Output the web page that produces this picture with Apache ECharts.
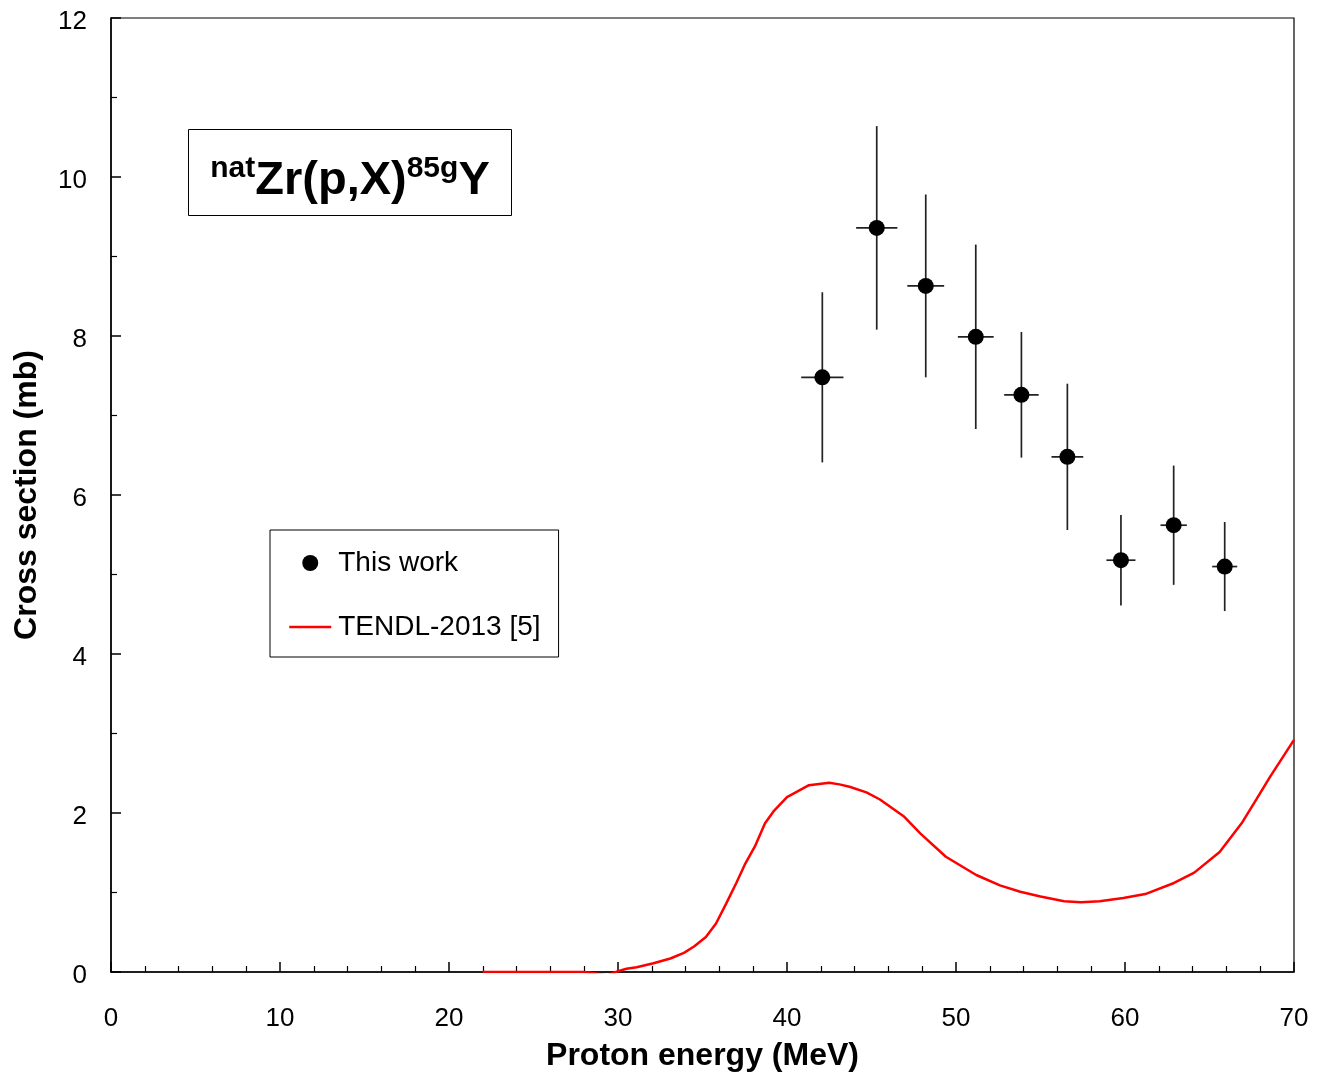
<!DOCTYPE html>
<html>
<head>
<meta charset="utf-8">
<script src="https://cdn.jsdelivr.net/npm/echarts@6/dist/echarts.min.js"></script>
<style>
html,body{margin:0;padding:0;background:#fff;}
#chart{width:1330px;height:1079px;}
</style>
</head>
<body>
<div id="chart"></div>
<script>
// Measured data: natZr(p,X)85gY
const energy      = [42.09, 45.31, 48.21, 51.17, 53.87, 56.59, 59.76, 62.88, 65.90];
const energyErr   = [1.25, 1.22, 1.09, 1.06, 1.02, 0.94, 0.86, 0.78, 0.74];
const crossSection= [7.48, 9.36, 8.63, 7.99, 7.26, 6.48, 5.18, 5.62, 5.10];
const csErr       = [1.07, 1.28, 1.15, 1.16, 0.79, 0.92, 0.57, 0.75, 0.56];

// TENDL-2013 curve
const tendlEnergy = [22, 28, 29.4, 30, 30.5, 31.1, 32.1, 33.1, 33.9, 34.5, 35.2, 35.8, 36.4, 37.0, 37.5, 38.1, 38.7, 39.2, 40.0, 41.3, 42.5, 43.1, 43.7, 44.7, 45.5, 46.9, 47.9, 49.4, 51.2, 52.6, 53.8, 55.0, 56.4, 57.4, 58.5, 59.9, 61.2, 62.9, 64.1, 65.6, 66.9, 67.8, 68.6, 70];
const tendlValue  = [0, 0, -0.04, 0.01, 0.04, 0.06, 0.11, 0.17, 0.24, 0.32, 0.44, 0.61, 0.86, 1.12, 1.35, 1.58, 1.87, 2.02, 2.20, 2.35, 2.38, 2.36, 2.33, 2.26, 2.17, 1.96, 1.74, 1.45, 1.22, 1.09, 1.01, 0.95, 0.89, 0.877, 0.89, 0.93, 0.98, 1.12, 1.25, 1.51, 1.87, 2.18, 2.46, 2.92];

const seriesNames = ['This work', 'TENDL-2013 [5]'];
const xAxisTitle = 'Proton energy (MeV)';
const yAxisTitle = 'Cross section (mb)';

const FONT = '"Liberation Sans", Arial, Helvetica, sans-serif';

const pointData = energy.map((e, i) => [e, crossSection[i], energyErr[i], csErr[i]]);
const tendlData = tendlEnergy.map((e, i) => [e, tendlValue[i]]);

const chart = echarts.init(document.getElementById('chart'), null, {renderer: 'canvas'});

const axisCommon = {
  axisLine: {show: true, lineStyle: {color: '#000', width: 1.5}},
  axisTick: {show: true, inside: true, length: 10, lineStyle: {color: '#000', width: 1.5}},
  minorTick: {show: true, length: 6, lineStyle: {color: '#000', width: 1.2}},
  splitLine: {show: false},
  axisLabel: {color: '#000', fontSize: 26, fontFamily: FONT},
  nameTextStyle: {color: '#000', fontSize: 32, fontWeight: 'bold', fontFamily: FONT},
  nameLocation: 'middle'
};

const option = {
  backgroundColor: '#fff',
  animation: false,
  grid: {left: 111, right: 36, top: 18, bottom: 107, show: true, borderColor: '#000', borderWidth: 1.2, containLabel: false},
  xAxis: Object.assign({}, axisCommon, {
    type: 'value', min: 0, max: 70, interval: 10,
    name: xAxisTitle, nameGap: 68,
    minorTick: Object.assign({}, axisCommon.minorTick, {splitNumber: 5}),
    axisLabel: Object.assign({}, axisCommon.axisLabel, {margin: 34})
  }),
  yAxis: Object.assign({}, axisCommon, {
    type: 'value', min: 0, max: 12, interval: 2,
    name: yAxisTitle, nameGap: 68,
    minorTick: Object.assign({}, axisCommon.minorTick, {splitNumber: 2}),
    axisLabel: Object.assign({}, axisCommon.axisLabel, {
      margin: 24,
      formatter: function (v) { return '{a|' + v + '}'; },
      rich: {a: {fontSize: 26, fontFamily: FONT, color: '#000', padding: [8, 0, 0, 0]}}
    })
  }),
  legend: {
    data: [
      {name: seriesNames[0], icon: 'circle', itemStyle: {color: '#000', opacity: 1}},
      {name: seriesNames[1], itemStyle: {color: 'rgba(0,0,0,0)', borderWidth: 0}, lineStyle: {color: '#ff0000', width: 2.5}}
    ],
    orient: 'vertical',
    left: 270, top: 530,
    padding: [17, 18, 14, 18],
    itemWidth: 42, itemHeight: 16, itemGap: 32,
    borderColor: '#000', borderWidth: 1,
    backgroundColor: '#fff',
    selectedMode: false,
    textStyle: {color: '#000', fontSize: 28, fontFamily: FONT, lineHeight: 32, padding: [0, 0, 0, 2]}
  },
  graphic: [
    {
      type: 'rect', left: 188, top: 129, z: 100,
      shape: {width: 323, height: 86},
      style: {fill: '#fff', stroke: '#000', lineWidth: 1}
    },
    {
      type: 'text', x: 350, y: 181, z: 101,
      style: {
        text: '{s|nat}{b|Zr(p,X)}{s|85g}{b|Y}',
        align: 'center', verticalAlign: 'middle',
        fill: '#000',
        rich: {
          b: {fontSize: 47, fontWeight: 'bold', fontFamily: FONT, lineHeight: 54, fill: '#000'},
          s: {fontSize: 30, fontWeight: 'bold', fontFamily: FONT, lineHeight: 32, verticalAlign: 'top', fill: '#000'}
        }
      }
    }
  ],
  series: [
    {
      name: 'errorbars',
      type: 'custom',
      data: pointData,
      encode: {x: 0, y: 1},
      z: 3,
      silent: true,
      renderItem: function (params, api) {
        const x = api.value(0), y = api.value(1), dx = api.value(2), dy = api.value(3);
        const top = api.coord([x, y + dy]);
        const bot = api.coord([x, y - dy]);
        const lft = api.coord([x - dx, y]);
        const rgt = api.coord([x + dx, y]);
        const st = {stroke: '#222', lineWidth: 1.7};
        return {
          type: 'group',
          children: [
            {type: 'line', shape: {x1: top[0], y1: top[1], x2: bot[0], y2: bot[1]}, style: st},
            {type: 'line', shape: {x1: lft[0], y1: lft[1], x2: rgt[0], y2: rgt[1]}, style: st}
          ]
        };
      }
    },
    {
      name: seriesNames[0],
      type: 'scatter',
      data: pointData.map(d => [d[0], d[1]]),
      symbol: 'circle',
      symbolSize: 16,
      itemStyle: {color: '#000', opacity: 1},
      z: 5
    },
    {
      name: seriesNames[1],
      type: 'line',
      data: tendlData,
      symbol: 'none',
      showSymbol: false,
      smooth: false,
      lineStyle: {color: '#ff0000', width: 2.5},
      itemStyle: {color: '#ff0000'},
      z: 4
    }
  ]
};

chart.setOption(option);
</script>
</body>
</html>
